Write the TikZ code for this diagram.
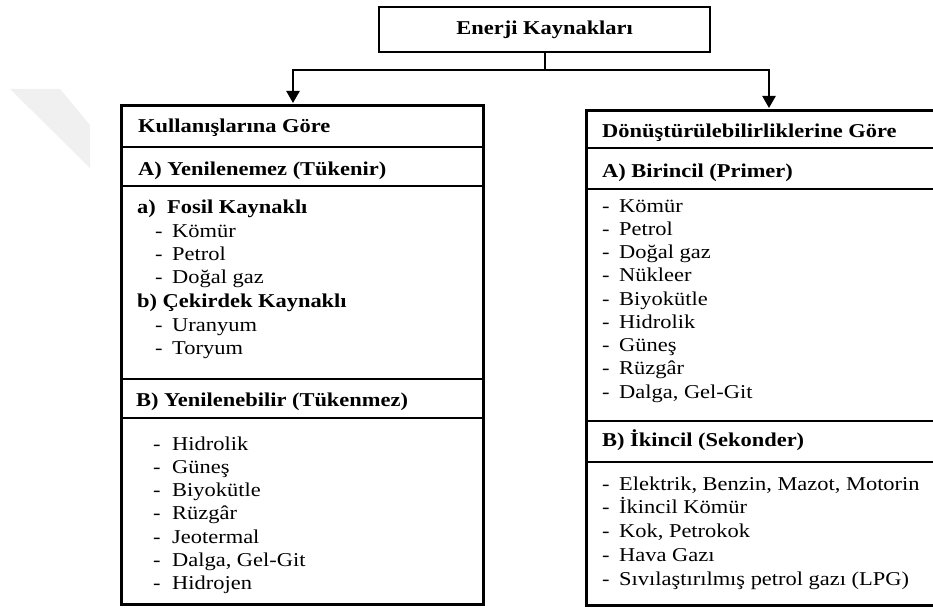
\documentclass[tikz,border=0pt]{standalone}
\usepackage{fontspec}
\setmainfont{Liberation Serif}[FakeStretch=1.145]
\usetikzlibrary{arrows.meta}
\begin{document}
\begin{tikzpicture}[x=1pt,y=-1pt,
  txt/.style={anchor=base west, inner sep=0pt, font=\fontsize{19.6}{23}\selectfont},
  hdr/.style={anchor=base west, inner sep=0pt, font=\fontsize{19.6}{23}\selectfont\bfseries},
  outerbox/.style={draw, line width=3pt, inner sep=0pt, anchor=north west},
  topbox/.style={draw, line width=2.4pt, inner sep=0pt, anchor=north west, font=\fontsize{19.6}{23}\selectfont\bfseries},
  divider/.style={line width=2.2pt},
  conn/.style={line width=2.3pt},
  tip/.style={-{Triangle[width=13pt,length=12pt]}}
]
\useasboundingbox (0,0) rectangle (933,607);
\begin{scope}
\clip (0,0) rectangle (933,607);
% faint watermark
\fill[gray!12] (10,89) -- (60,89) -- (90,125) -- (90,168) -- cycle;

% boxes
\node[topbox, minimum width=331pt, minimum height=45pt] (top) at (378,6) {Enerji Kaynakları};
\node[outerbox, minimum width=362pt, minimum height=499pt] (L) at (120,104) {};
\node[outerbox, minimum width=370pt, minimum height=495pt] (R) at (585,109) {};

% connectors
\coordinate (j) at (543.5,70);
\coordinate (la) at (293,103);
\coordinate (ra) at (769,108);
\draw[conn] (top.south) -- (top.south |- j);
\draw[conn,tip] (j) -| (la);
\draw[conn,tip] (j) -| (ra);

% dividers left
\foreach \yy in {147,186,379,418} \draw[divider] (120,\yy) -- (482,\yy);
% dividers right
\foreach \yy in {148,189,421,462} \draw[divider] (585,\yy) -- (940,\yy);

% left texts
\node[hdr] (lh) at (138,132.5) {Kullanışlarına Göre};
\node[hdr] (lA) at (138,175) {A) Yenilenemez (Tükenir)};
\node[hdr] (la0) at (137,213) {a)};
\node[hdr] (la1) at (167,213) {Fosil Kaynaklı};
\foreach \t [count=\i] in {Kömür,Petrol,Doğal gaz}{
  \node[txt] (ld\i) at (155,{237+23.2*(\i-1)}) {-};
  \node[txt] (lt\i) at (172,{237+23.2*(\i-1)}) {\t};
}
\node[hdr] (lb1) at (137,307) {b) Çekirdek Kaynaklı};
\foreach \t [count=\i] in {Uranyum,Toryum}{
  \node[txt] (lcd\i) at (155,{331+23.3*(\i-1)}) {-};
  \node[txt] (lct\i) at (172,{331+23.3*(\i-1)}) {\t};
}
\node[hdr] (lB) at (136,406) {B) Yenilenebilir (Tükenmez)};
\foreach \t [count=\i] in {Hidrolik,Güneş,Biyokütle,Rüzgâr,Jeotermal,{Dalga, Gel-Git},Hidrojen}{
  \node[txt] (lbd\i) at (153,{450+23.33*(\i-1)}) {-};
  \node[txt] (lbt\i) at (172,{450+23.33*(\i-1)}) {\t};
}

% right texts
\node[hdr] (rh) at (602,137) {Dönüştürülebilirliklerine Göre};
\node[hdr] (rA) at (602,177) {A) Birincil (Primer)};
\foreach \t [count=\i] in {Kömür,Petrol,Doğal gaz,Nükleer,Biyokütle,Hidrolik,Güneş,Rüzgâr,{Dalga, Gel-Git}}{
  \node[txt] (rad\i) at (602,{212+23.25*(\i-1)}) {-};
  \node[txt] (rat\i) at (619,{212+23.25*(\i-1)}) {\t};
}
\node[hdr] (rB) at (602,446) {B) İkincil (Sekonder)};
\foreach \t [count=\i] in {{Elektrik, Benzin, Mazot, Motorin},İkincil Kömür,{Kok, Petrokok},Hava Gazı,Sıvılaştırılmış petrol gazı (LPG)}{
  \node[txt] (rbd\i) at (602,{490+23.75*(\i-1)}) {-};
  \node[txt] (rbt\i) at (619,{490+23.75*(\i-1)}) {\t};
}
\end{scope}
\end{tikzpicture}
\end{document}
